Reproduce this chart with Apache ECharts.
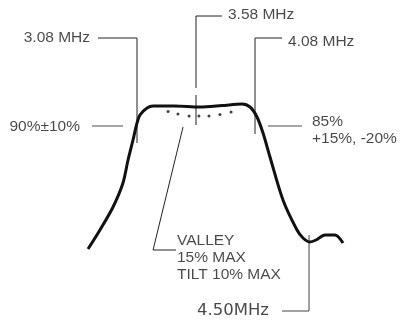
<!DOCTYPE html>
<html>
<head>
<meta charset="utf-8">
<script src="https://cdn.jsdelivr.net/npm/echarts@6/dist/echarts.min.js"></script>
<style>
    html, body { margin: 0; background: #fff; }
    #main { width: 400px; height: 322px; }
</style>
</head>
<body>
<div id="main"></div>
<script>
// response curve: frequency (MHz) vs level (%, flat top = 100)
var freq = [2.665, 2.766, 2.877, 2.961, 3.004, 3.046, 3.08, 3.105, 3.165, 3.216, 3.40, 3.61, 3.80, 3.97, 4.038, 4.097, 4.148, 4.207, 4.317, 4.436, 4.487, 4.546, 4.597, 4.673, 4.758, 4.826]
var level = [28.5, 38, 49.5, 61.5, 73, 83, 91.5, 95.5, 99, 100, 100, 99.5, 100.2, 101, 99.5, 94.5, 86.5, 74.5, 53, 38, 34, 32, 33, 35.5, 35.5, 31.5]

// dotted valley line
var dotFreq = [3.343, 3.427, 3.521, 3.605, 3.69, 3.783, 3.877]
var dotLevel = [97.3, 96, 95, 95, 95, 95.8, 97]

// leader lines, [MHz, %] points
var lead308 = [[2.75, 134], [3.08, 134], [3.08, 81.5]]
var lead358a = [[3.80, 145], [3.58, 145], [3.58, 109]]
var lead358b = [[3.58, 105.5], [3.58, 90.5]]
var lead408 = [[4.31, 134], [4.08, 134], [4.08, 86]]
var leadValley = [[3.47, 89.5], [3.216, 28], [3.41, 28]]
var lead450 = [[4.538, 35.5], [4.538, -2.5], [4.309, -2.5]]
var lead90 = [[2.699, 90], [2.961, 90]]
var lead85 = [[4.19, 90], [4.478, 90]]

// annotation texts and where they sit
var labelText = ['3.08 MHz', '3.58 MHz', '4.08 MHz', '90%\u00b110%', '85%\n+15%, -20%', 'VALLEY\n15% MAX\nTILT 10% MAX', '4.50MHz']
var labelFreq = [2.682, 3.851, 4.36, 2.597, 4.563, 3.419, 3.588]
var labelLevel = [134, 145.5, 132, 89.5, 88, 24, -2.5]

var labelAlign = ['right', 'left', 'left', 'right', 'left', 'left', 'left']

function leader (pts, color, width) {
    return {
        type: 'line',
        data: pts,
        symbol: 'none',
        silent: true,
        lineStyle: { color: color, width: width },
        z: 1
    }
}

var labelData = labelText.map(function (t, i) {
    var last = i === 6
    return {
        value: [labelFreq[i], labelLevel[i]],
        label: {
            show: true,
            position: 'inside',
            formatter: t,
            align: labelAlign[i],
            verticalAlign: 'middle',
            fontFamily: last ? 'DejaVu Sans' : 'Liberation Sans',
            fontSize: last ? 16.5 : 15.5,
            lineHeight: 17,
            color: '#1a1a1a'
        }
    }
})

var option = {
    animation: false,
    grid: { left: 9.56, right: 1.04, top: 0, bottom: 0 },
    xAxis: { type: 'value', min: 2, max: 5.3, show: false },
    yAxis: { type: 'value', min: -8, max: 153, show: false },
    series: [
        leader(lead308, '#222', 1),
        leader(lead358a, '#222', 1),
        leader(lead358b, '#222', 1),
        leader(lead408, '#222', 1),
        leader(leadValley, '#222', 1),
        leader(lead450, '#444', 1),
        leader(lead90, '#888', 1.5),
        leader(lead85, '#888', 1.5),
        {
            type: 'line',
            data: freq.map(function (f, i) { return [f, level[i]] }),
            symbol: 'none',
            smooth: 0.3,
            lineStyle: { color: '#111', width: 3 },
            z: 3
        },
        {
            type: 'scatter',
            data: dotFreq.map(function (f, i) { return [f, dotLevel[i]] }),
            symbolSize: 3,
            itemStyle: { color: '#111' },
            z: 3
        },
        {
            type: 'scatter',
            data: labelData,
            symbolSize: 0,
            silent: true,
            z: 4
        }
    ]
}

var myChart = echarts.init(document.getElementById('main'))
myChart.setOption(option)
</script>
</body>
</html>
